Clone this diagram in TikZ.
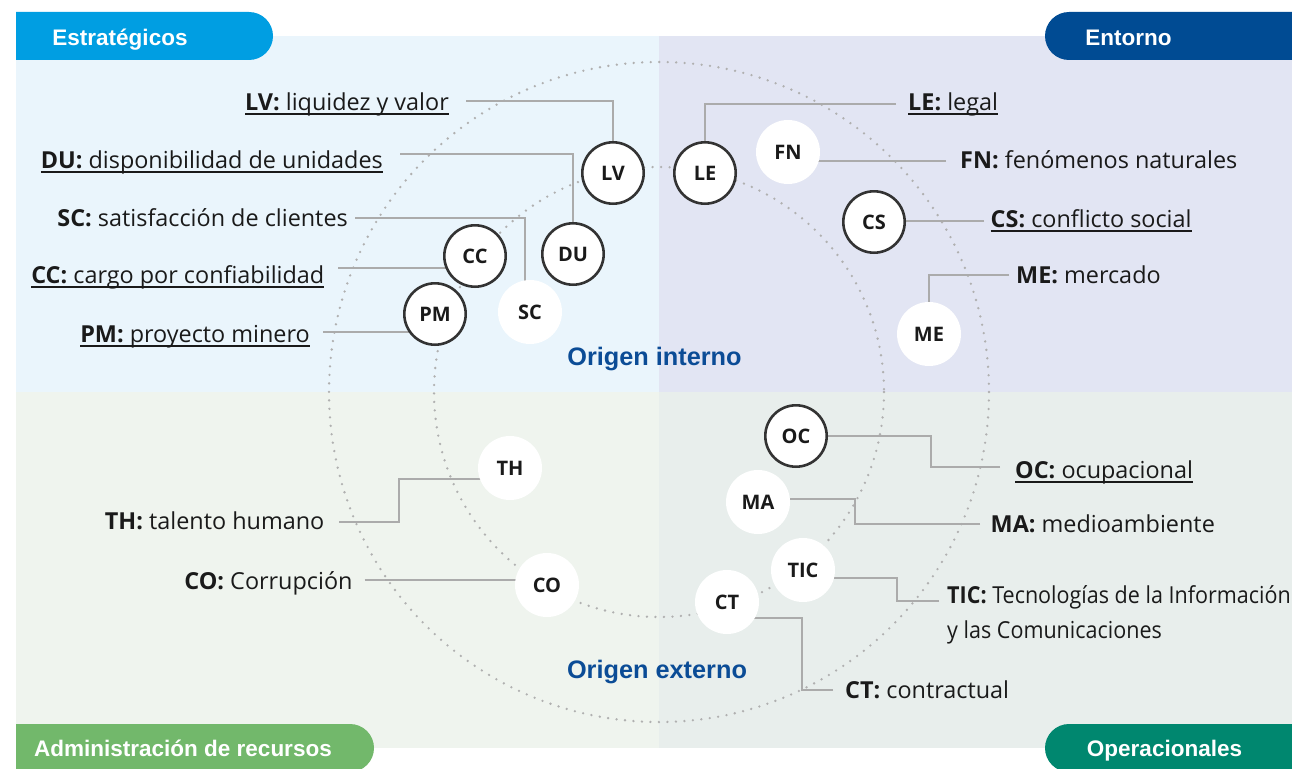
\documentclass[tikz,border=0pt]{standalone}
\usepackage{fontspec}
\usepackage{graphicx}
\setmainfont{Open Sans}
\newfontfamily\tabfont{Liberation Sans}
\usetikzlibrary{calc}
\pgfdeclarelayer{bg}
\pgfdeclarelayer{mid}
\pgfsetlayers{bg,mid,main}
\definecolor{tlc}{HTML}{EAF5FC}
\definecolor{trc}{HTML}{E2E5F3}
\definecolor{blc}{HTML}{EFF4EE}
\definecolor{brc}{HTML}{E8EEEC}
\definecolor{tabA}{HTML}{009EE2}
\definecolor{tabB}{HTML}{004B93}
\definecolor{tabC}{HTML}{72B86B}
\definecolor{tabD}{HTML}{00876F}
\definecolor{origc}{HTML}{0B4C96}
\definecolor{connc}{HTML}{ABABAB}
\definecolor{dotcol}{HTML}{B0B0B0}
\definecolor{ringc}{HTML}{333333}
\definecolor{txtc}{HTML}{1A1A1A}
\newcommand{\ulx}[1]{\setbox0=\hbox{#1}\rlap{\rule[-4.6pt]{\wd0}{1.4pt}}\box0}
\tikzset{
  lbl/.style={font=\fontsize{23.4}{28}\selectfont, text=txtc, inner sep=0pt},
  circ/.style={circle, fill=white, minimum size=64pt, inner sep=0pt, font=\fontsize{20}{24}\selectfont\bfseries, text=txtc},
  circb/.style={circ, draw=ringc, line width=2.6pt, minimum size=61.4pt},
  conn/.style={draw=connc, line width=1.3pt},
  dotc/.style={draw=dotcol, line width=2.6pt, line cap=round, dash pattern=on 0pt off 8.5pt},
  tabtxt/.style={font=\tabfont\bfseries\fontsize{22.5}{26}\selectfont, text=white, inner sep=0pt},
  origin/.style={font=\tabfont\bfseries\fontsize{25.3}{30}\selectfont, text=origc, inner sep=0pt}
}
\begin{document}
\begin{tikzpicture}[x=1pt,y=-1pt]
\useasboundingbox (0,0) rectangle (1292,768);
\begin{pgfonlayer}{bg}
\fill[white] (0,0) rectangle (1292,768);
\fill[tlc] (16,36) rectangle (659,392);
\fill[trc] (659,36) rectangle (1292,392);
\fill[blc] (16,392) rectangle (659,748);
\fill[brc] (659,392) rectangle (1292,748);
\end{pgfonlayer}

% tabs
\fill[tabA] (16,12) -- (249,12) arc[start angle=90, end angle=-90, radius=24pt] -- (16,60) -- cycle;
\fill[tabB] (1300,12) -- (1069,12) arc[start angle=90, end angle=270, radius=24pt] -- (1300,60) -- cycle;
\fill[tabC] (16,724) -- (350,724) arc[start angle=90, end angle=-90, radius=24pt] -- (16,772) -- cycle;
\fill[tabD] (1300,724) -- (1069,724) arc[start angle=90, end angle=270, radius=24pt] -- (1300,772) -- cycle;
\node[tabtxt, anchor=base] (tA) at (120,46) {Estratégicos};
\node[tabtxt, anchor=base] (tB) at (1128.5,46) {Entorno};
\node[tabtxt, anchor=base] (tC) at (183,756) {Administración de recursos};
\node[tabtxt, anchor=base] (tD) at (1164.5,756) {Operacionales};

% origin labels
\node[origin, anchor=base] (oi) at (654.5,365.5) {Origen interno};
\node[origin, anchor=base] (oe) at (657,678) {Origen externo};

% circle nodes
\node[circb] (LV) at (613,173) {LV};
\node[circb] (LE) at (705,173) {LE};
\node[circ]  (FN) at (788,152) {FN};
\node[circb] (CS) at (874,222) {CS};
\node[circ]  (ME) at (929,334) {ME};
\node[circb] (DU) at (573,254) {DU};
\node[circb] (CC) at (475,256) {CC};
\node[circb] (PM) at (435,314) {PM};
\node[circ]  (SC) at (530,312) {SC};
\node[circ]  (TH) at (510,468) {TH};
\node[circ]  (CO) at (547,585) {CO};
\node[circb] (OC) at (796,436) {OC};
\node[circ]  (MA) at (758,502) {MA};
\node[circ]  (TIC) at (803,570) {TIC};
\node[circ]  (CT) at (727,602) {CT};

% labels left
\node[lbl, anchor=base east] (lvT) at (449,110) {\ulx{\textbf{LV:} liquidez y valor}};
\node[lbl, anchor=base east] (duT) at (383,168) {\ulx{\textbf{DU:} disponibilidad de unidades}};
\node[lbl, anchor=base east] (scT) at (348,226) {\textbf{SC:} satisfacción de clientes};
\node[lbl, anchor=base east] (ccT) at (324.5,283) {\ulx{\textbf{CC:} cargo por confiabilidad}};
\node[lbl, anchor=base east] (pmT) at (310,342) {\ulx{\textbf{PM:} proyecto minero}};
\node[lbl, anchor=base east] (thT) at (324.5,529) {\textbf{TH:} talento humano};
\node[lbl, anchor=base east] (coT) at (352.7,589) {\textbf{CO:} Corrupción};
% labels right
\node[lbl, anchor=base west] (leT) at (908,110) {\ulx{\textbf{LE:} legal}};
\node[lbl, anchor=base west] (fnT) at (960,168) {\textbf{FN:} fenómenos naturales};
\node[lbl, anchor=base west] (csT) at (990.5,227) {\ulx{\textbf{CS:} conflicto social}};
\node[lbl, anchor=base west] (meT) at (1016,283) {\textbf{ME:} mercado};
\node[lbl, anchor=base west] (ocT) at (1015,478) {\ulx{\textbf{OC:} ocupacional}};
\node[lbl, anchor=base west] (maT) at (990.5,532) {\textbf{MA:} medioambiente};
\node[lbl, anchor=base west] (ticT) at (947,603) {\scalebox{0.92}[1]{\textbf{TIC:} Tecnologías de la Información}};
\node[lbl, anchor=base west] (ticT2) at (947,638) {\scalebox{0.92}[1]{y las Comunicaciones}};
\node[lbl, anchor=base west] (ctT) at (845,698) {\textbf{CT:} contractual};

\begin{pgfonlayer}{mid}
\draw[dotc] (659,392) circle[radius=330];
\draw[dotc] (659,392) circle[radius=225];
% connectors
\draw[conn] ([xshift=17pt,yshift=9pt]lvT.base east) -| (LV);
\draw[conn] ([xshift=17pt,yshift=14pt]duT.base east) -| (DU);
\draw[conn] ([xshift=7pt,yshift=8pt]scT.base east) -| ([xshift=-5pt]SC.center);
\draw[conn] ([xshift=13.5pt,yshift=15pt]ccT.base east) coordinate (ccS) -- (ccS -| CC);
\draw[conn] ([xshift=13pt,yshift=10pt]pmT.base east) coordinate (pmS) -- (pmS -| PM);
\draw[conn] ([xshift=14.5pt,yshift=7pt]thT.base east) -- ++(60,0) |- ([yshift=-11pt]TH.center);
\draw[conn] ([xshift=12pt,yshift=9pt]coT.base east) coordinate (coS) -- (coS -| CO);
\draw[conn] ([xshift=-12pt,yshift=6pt]leT.base west) -| (LE);
\draw[conn] ([xshift=-14pt,yshift=7pt]fnT.base west) coordinate (fnS) -- (fnS -| FN);
\draw[conn] ([xshift=-6.5pt,yshift=6pt]csT.base west) coordinate (csS) -- (csS -| CS);
\draw[conn] ([xshift=-7pt,yshift=8pt]meT.base west) -| (ME);
\draw[conn] ([xshift=-15pt,yshift=11pt]ocT.base west) -- ++(-69,0) |- (OC);
\draw[conn] ([xshift=-10.5pt,yshift=8pt]maT.base west) -- ++(-125,0) |- ([yshift=3pt]MA.center);
\draw[conn] ([xshift=-8pt,yshift=2pt]ticT.base west) -- ++(-42,0) |- ([yshift=-8pt]TIC.center);
\draw[conn] ([xshift=-12pt,yshift=8pt]ctT.base west) -- ++(-31,0) |- ([yshift=-16pt]CT.center);
\end{pgfonlayer}
\end{tikzpicture}
\end{document}
